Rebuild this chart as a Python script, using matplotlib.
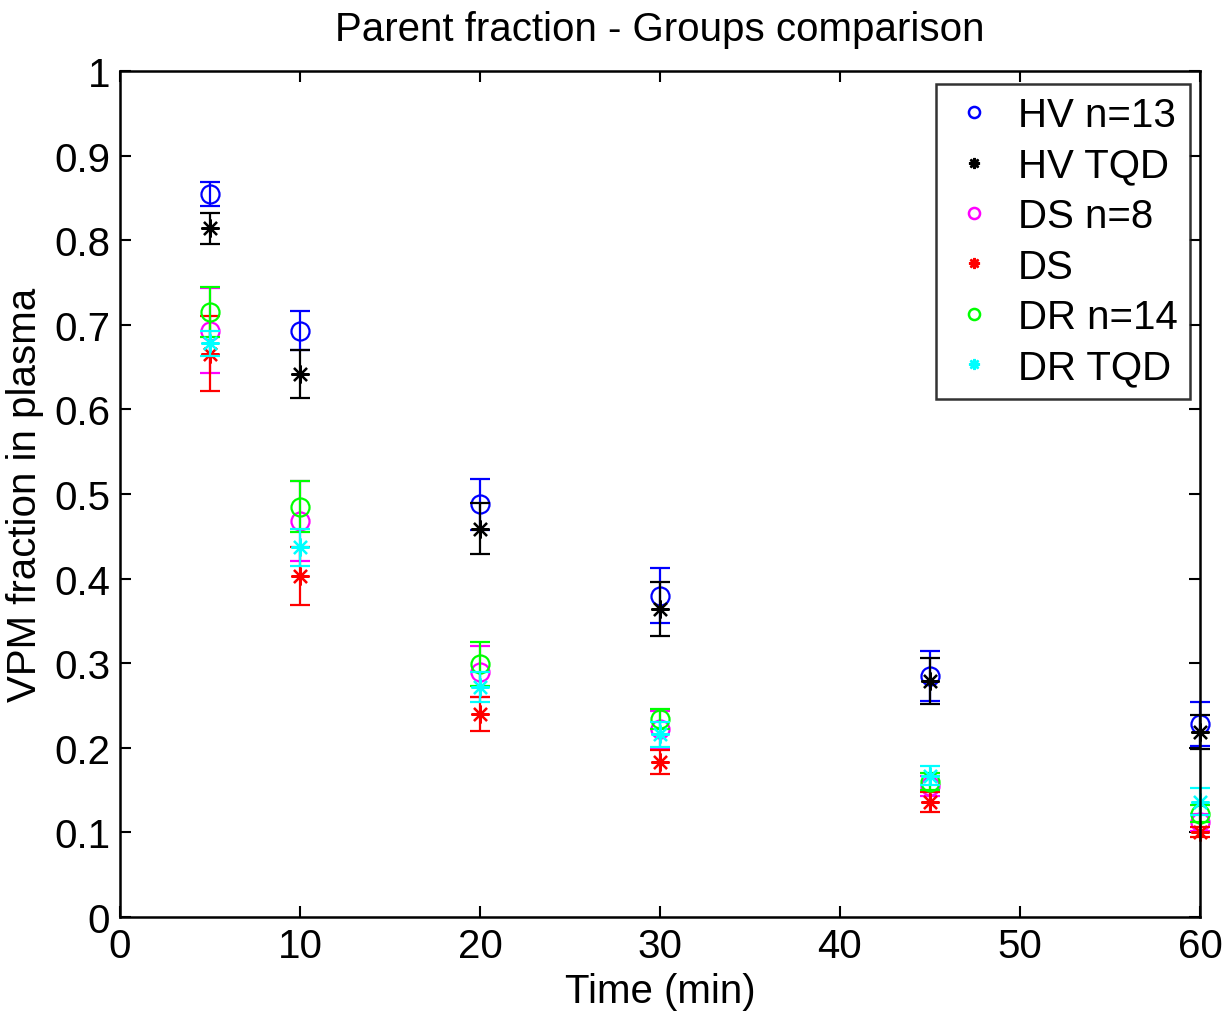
import matplotlib.pyplot as plt
from matplotlib.lines import Line2D

plt.rcParams['font.family'] = ['Liberation Sans', 'DejaVu Sans']

time = [5, 10, 20, 30, 45, 60]

hv_mean = [0.855, 0.693, 0.488, 0.380, 0.285, 0.228]
hv_err = [0.014, 0.023, 0.030, 0.032, 0.030, 0.026]
hv_tqd_mean = [0.814, 0.642, 0.459, 0.364, 0.279, 0.219]
hv_tqd_err = [0.018, 0.028, 0.030, 0.032, 0.027, 0.020]
ds_mean = [0.693, 0.468, 0.290, 0.222, 0.155, 0.112]
ds_err = [0.050, 0.047, 0.030, 0.022, 0.012, 0.010]
ds_tqd_mean = [0.666, 0.403, 0.240, 0.183, 0.136, 0.100]
ds_tqd_err = [0.044, 0.034, 0.020, 0.014, 0.012, 0.006]
dr_mean = [0.715, 0.485, 0.299, 0.234, 0.160, 0.122]
dr_err = [0.030, 0.030, 0.026, 0.012, 0.010, 0.010]
dr_tqd_mean = [0.678, 0.437, 0.272, 0.216, 0.167, 0.136]
dr_tqd_err = [0.015, 0.022, 0.018, 0.015, 0.011, 0.016]

labels = ['HV n=13', 'HV TQD', 'DS n=8', 'DS', 'DR n=14', 'DR TQD']
colors = ['#0000ff', '#000000', '#ff00ff', '#ff0000', '#00ff00', '#00ffff']
asterisk = (8, 2, 0)
markers = ['o', asterisk, 'o', asterisk, 'o', asterisk]
means = [hv_mean, hv_tqd_mean, ds_mean, ds_tqd_mean, dr_mean, dr_tqd_mean]
errs = [hv_err, hv_tqd_err, ds_err, ds_tqd_err, dr_err, dr_tqd_err]

fs = 29

fig = plt.figure(figsize=(12.3, 10.12), dpi=100)
ax = fig.add_axes([120 / 1230, 94 / 1012, 1080 / 1230, 846 / 1012])

for m, e, c, mk in zip(means, errs, colors, markers):
    ax.errorbar(time, m, yerr=e, fmt='none', ecolor=c, elinewidth=1.6,
                capsize=7.5, capthick=1.6, clip_on=False)
    ax.plot(time, m, linestyle='none', marker=mk, markersize=13,
            markerfacecolor='none', markeredgecolor=c, markeredgewidth=1.6,
            clip_on=False)

ax.set_xlim(0, 60)
ax.set_ylim(0, 1)
ax.set_xticks(range(0, 61, 10))
ax.set_yticks([i / 10 for i in range(11)])
ax.set_yticklabels(['0', '0.1', '0.2', '0.3', '0.4', '0.5', '0.6', '0.7', '0.8', '0.9', '1'])
ax.tick_params(direction='in', length=8, width=1.5, labelsize=fs,
               top=True, right=True, pad=7)
for s in ax.spines.values():
    s.set_linewidth(1.8)

ax.set_title('Parent fraction - Groups comparison', fontsize=fs, pad=22)
ax.set_xlabel('Time (min)', fontsize=fs, labelpad=5)
ax.set_ylabel('VPM fraction in plasma', fontsize=fs, labelpad=7)

handles = [Line2D([], [], linestyle='none', marker=mk, markersize=8,
                  markerfacecolor='none', markeredgecolor=c, markeredgewidth=1.8)
           for mk, c in zip(markers, colors)]
leg = ax.legend(handles, labels, loc='upper right', bbox_to_anchor=(0.9907, 0.9846),
                borderaxespad=0, fontsize=fs, frameon=True, fancybox=False,
                labelspacing=0.31, handlelength=1.3, handletextpad=0.45,
                borderpad=0.3)
leg.get_frame().set_edgecolor('black')
leg.get_frame().set_linewidth(1.8)

fig.savefig('out.png', dpi=100)
